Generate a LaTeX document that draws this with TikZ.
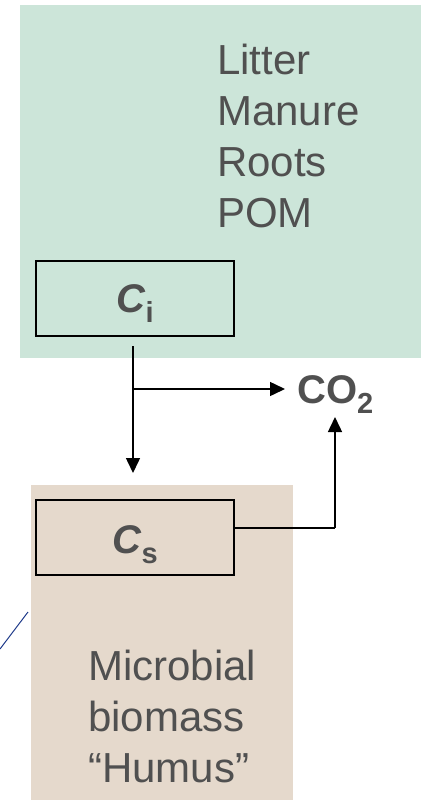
\documentclass[tikz,border=0pt]{standalone}
\usepackage{fontspec}
\setmainfont{Liberation Sans}
\usetikzlibrary{arrows.meta}
\definecolor{litgreen}{HTML}{CCE5D9}
\definecolor{humbeige}{HTML}{E5D9CC}
\definecolor{txtgray}{HTML}{505050}
\definecolor{lineblue}{HTML}{1F3A8A}
\tikzset{
  poolbox/.style={draw=black, line width=2pt, minimum width=198pt, minimum height=75pt, inner sep=0pt},
  bigtxt/.style={text=txtgray, font=\fontsize{42}{51}\selectfont, inner sep=0pt},
  boldtxt/.style={bigtxt, font=\fontsize{40}{51}\selectfont\bfseries},
  flow/.style={line width=1.5pt, -{Triangle[length=15pt,width=14pt]}},
  flowplain/.style={line width=1.5pt}
}
\newcommand{\lowsub}[1]{\raisebox{-10pt}{\fontsize{29}{30}\selectfont #1}}
\begin{document}
\begin{tikzpicture}[x=1pt,y=-1pt]
\useasboundingbox (0,0) rectangle (422,801);
\fill[litgreen] (20,5) rectangle (421,358);
\fill[humbeige] (31,485) rectangle (293,800);
\node[bigtxt, anchor=base west, align=left] (src) at (217,227) {Litter\\Manure\\Roots\\POM};
\node[poolbox, anchor=center] (ci) at (135,298.5) {};
\node[boldtxt, anchor=base] (cilab) at (135,312) {\textit{C}\lowsub{i}};
\node[poolbox, anchor=center] (cs) at (135,537) {};
\node[boldtxt, anchor=base] (cslab) at (135,553) {\textit{C}\lowsub{s}};
\node[boldtxt, anchor=base west] (co2) at (297,403) {CO\lowsub{2}};
\node[bigtxt, anchor=base west, align=left] (mic) at (88,782) {Microbial\\biomass\\“Humus”};
\coordinate (top) at (133,346);
\coordinate (branch) at (133,389);
\coordinate (down) at (133,473);
\coordinate (right) at (285,389);
\coordinate (corner) at (335,528);
\coordinate (up) at (335,417);
\draw[flowplain] (top) -- (branch);
\draw[flow] (branch) -- (down);
\draw[flow] (branch) -- (right);
\draw[flowplain] (cs.east |- corner) -- (corner);
\draw[flow] (corner) -- (up);
\coordinate (bl1) at (0,649);
\coordinate (bl2) at (28,612);
\draw[lineblue, line width=1pt] (bl1) -- (bl2);
\end{tikzpicture}
\end{document}
